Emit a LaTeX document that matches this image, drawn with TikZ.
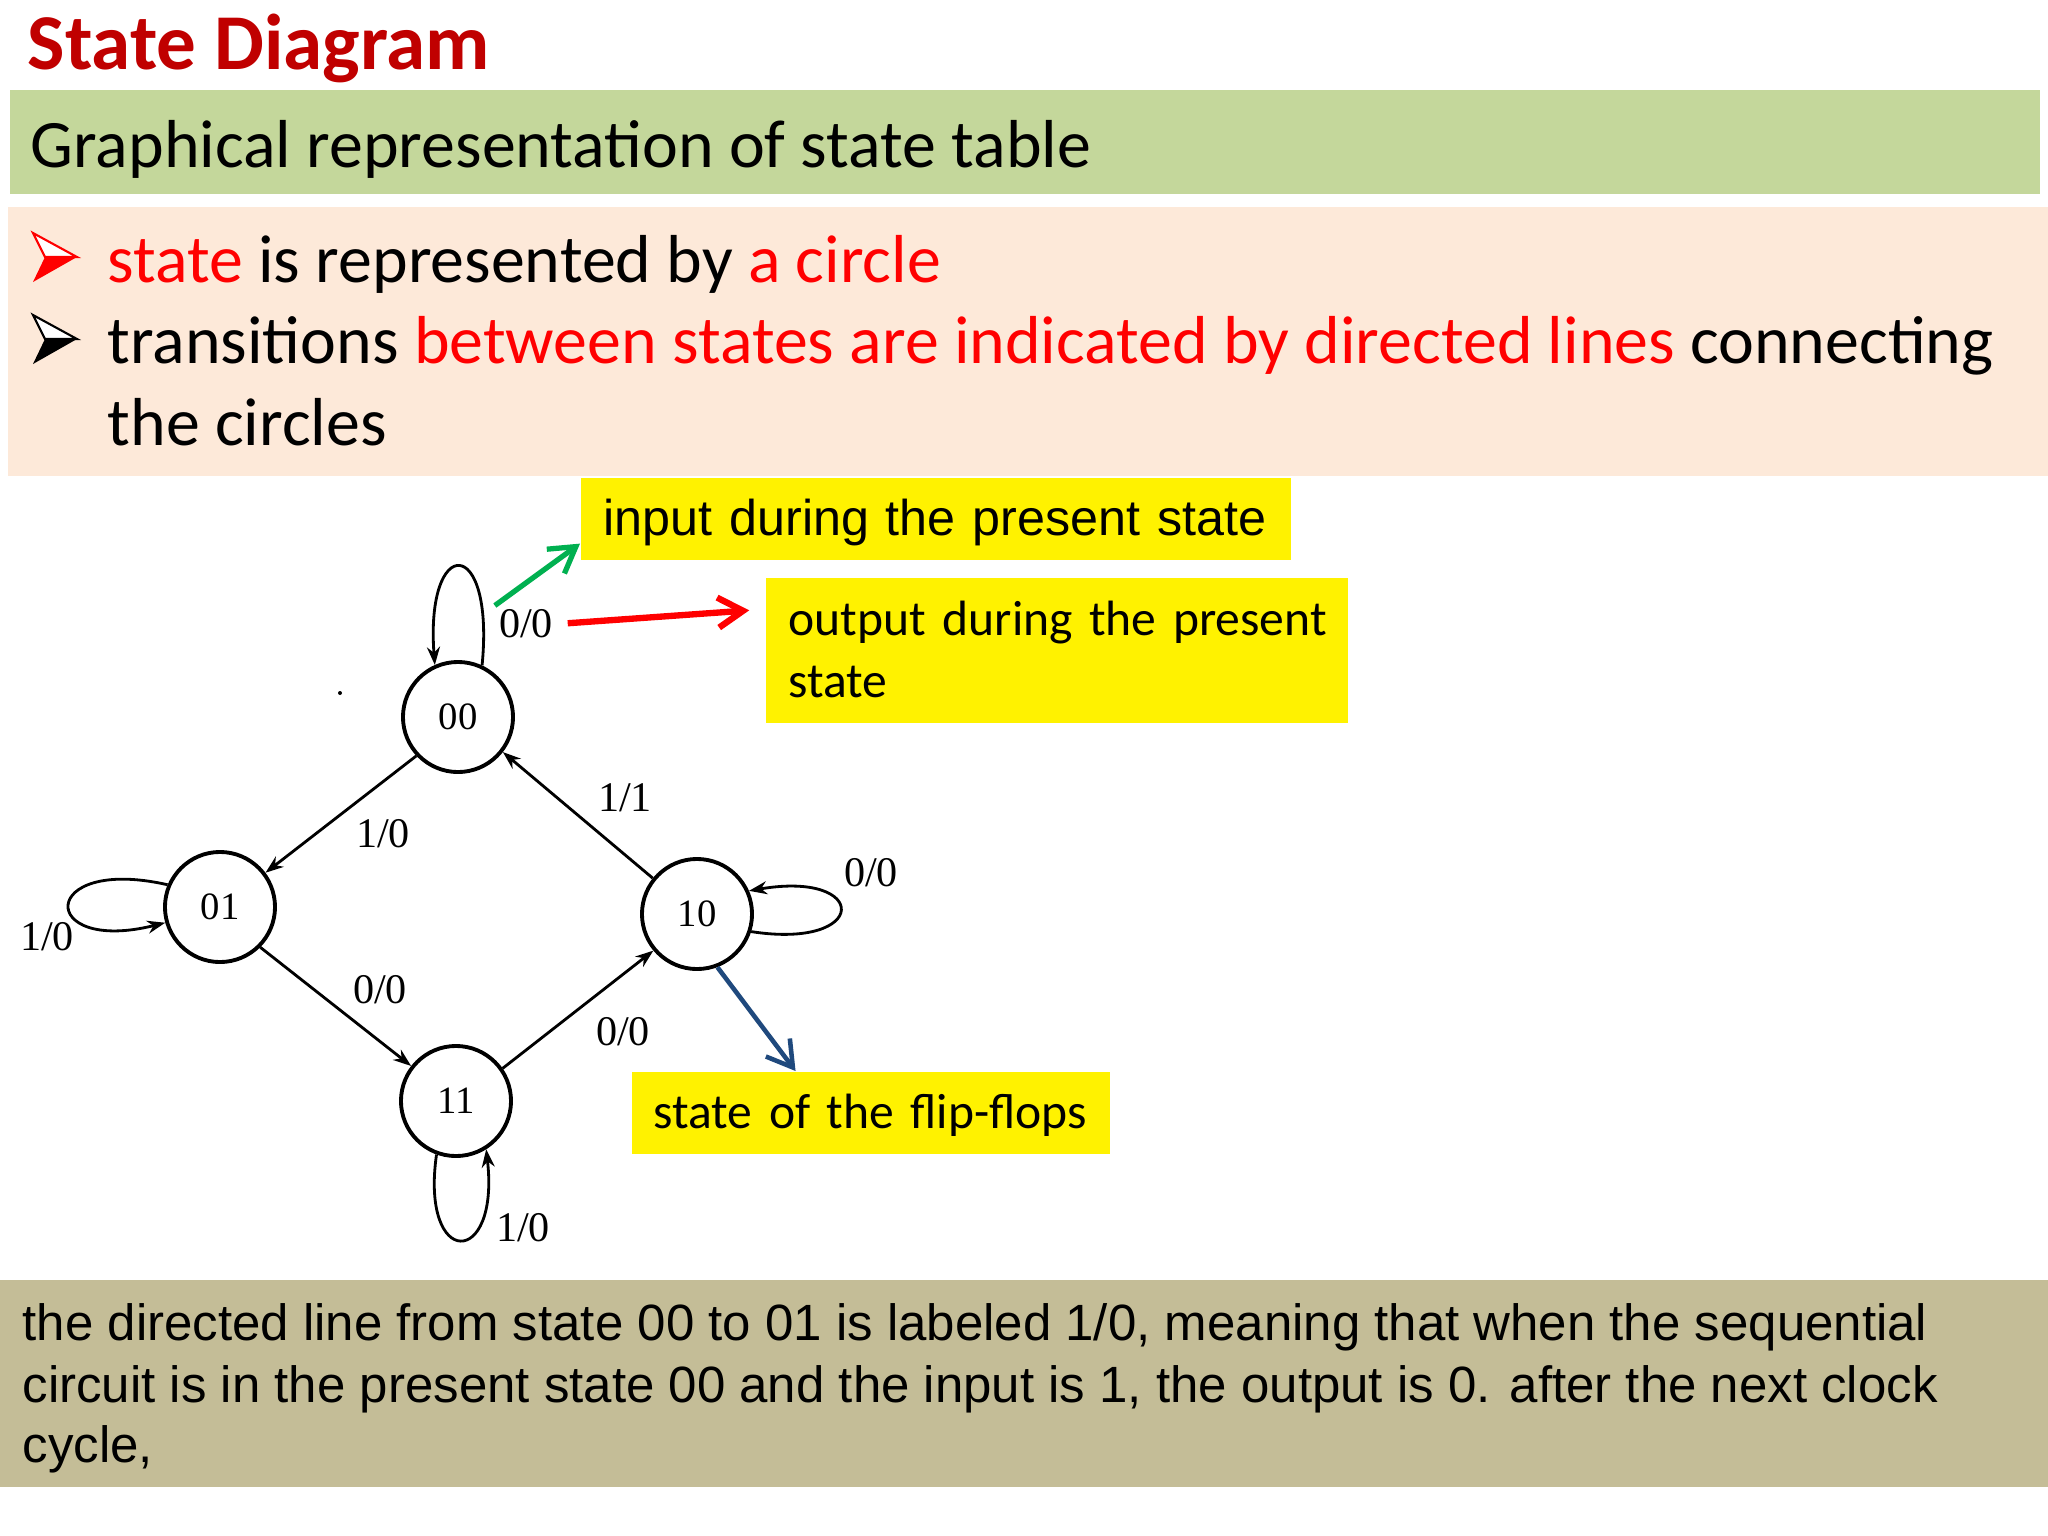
\documentclass[tikz,border=0pt]{standalone}
\usepackage{fontspec}
\setmainfont{Carlito}
\newfontfamily\arialfont{Liberation Sans}
\newfontfamily\timesfont{Liberation Serif}
\usetikzlibrary{arrows.meta}
\definecolor{titlered}{HTML}{C00000}
\definecolor{bargreen}{HTML}{C4D79B}
\definecolor{bulletpink}{HTML}{FDE9D9}
\definecolor{notetan}{HTML}{C4BD97}
\definecolor{arrowgreen}{HTML}{00B050}
\definecolor{arrowblue}{HTML}{1F497D}
\begin{document}
\begin{tikzpicture}[x=0.01cm,y=-0.01cm,
  ffstate/.style={draw,circle,line width=1.1pt,inner sep=0pt,minimum size=1.1cm,font=\timesfont\fontsize{11}{11}\selectfont},
  trans/.style={line width=0.8pt,-{Stealth[length=1.8mm,width=1.3mm]}},
  io/.style={inner sep=1pt,font=\timesfont\fontsize{12}{12}\selectfont},
  ybox/.style={fill=yellow,anchor=north west,inner ysep=0pt,align=left,font=\fontsize{14.1}{17.6}\selectfont},
  txt/.style={anchor=base west,inner sep=0pt},
  callout/.style={-{Straight Barb[length=2.5mm,width=3mm]}}]
  \useasboundingbox (0,0) rectangle (2048,1536);
  % header
  \fill[bargreen] (10,90) rectangle (2040,194);
  \fill[bulletpink] (8,207) rectangle (2048,476);
  \node[txt,at={(27,69)},text=titlered,font=\bfseries\fontsize{22.5}{27}\selectfont] (title) {State Diagram};
  \node[txt,at={(30,167)},font=\fontsize{19.3}{23}\selectfont] (sub) {Graphical representation of state table};
  %bullets
  \filldraw[fill=white,draw=red,line width=0.6pt] (33,233) -- (77,257) -- (45,257) -- cycle;
  \fill[red] (45,257) -- (77,257) -- (33,282) -- cycle;
  \filldraw[fill=white,draw=black,line width=0.6pt] (33,315) -- (77,339) -- (45,339) -- cycle;
  \fill[black] (45,339) -- (77,339) -- (33,364) -- cycle;
  \node[txt,at={(107,282)},font=\fontsize{19.3}{23}\selectfont] (b1) {\textcolor{red}{state} is represented by \textcolor{red}{a circle}};
  \node[txt,at={(107,363)},font=\fontsize{19.3}{23}\selectfont] (b2) {transitions \textcolor{red}{between states are indicated by directed lines} connecting};
  \node[txt,at={(107,445)},font=\fontsize{19.3}{23}\selectfont] (b3) {the circles};

  % states
  \node[ffstate,at={(458,717)}] (s00) {00};
  \node[ffstate,at={(220,907)}] (s01) {01};
  \node[ffstate,at={(697,914)}] (s10) {10};
  \node[ffstate,at={(456,1101)}] (s11) {11};
  \fill (340,693) circle (2);
  %edges
  \draw[trans] (s00.223) -- (s01.37);
  \draw[trans] (s10.141) -- (s00.322);
  \draw[trans] (s01.315) -- (s11.142);
  \draw[trans] (s11.35) -- (s10.220);
  \draw[trans] (s00.65) .. controls (495,534) and (425,534) .. (s00.114);
  \draw[trans] (s01.157) .. controls (37,855) and (37,955) .. (s01.196);
  \draw[trans] (s10.342) .. controls (870,950) and (870,870) .. (s10.24);
  \draw[trans] (s11.250) .. controls (420,1269) and (500,1269) .. (s11.302);
  %labels
  \node[io,at={(526,624)}] (l00) {0/0};
  \node[io,at={(383,834)}] (l0001) {1/0};
  \node[io,at={(625,798)}] (l1000) {1/1};
  \node[io,at={(871,873)}] (l10) {0/0};
  \node[io,at={(47,937)}] (l01) {1/0};
  \node[io,at={(380,990)}] (l0111) {0/0};
  \node[io,at={(623,1032)}] (l1110) {0/0};
  \node[io,at={(523,1228)}] (l11) {1/0};

  % notes
  \node[ybox,inner xsep=0.23cm,text width=6.64cm,text height=0.58cm,text depth=0.24cm,font=\arialfont\fontsize{14.3}{17}\selectfont,at={(580,477)}] (inbox) {\mbox{input during the present state}};
  \node[ybox,inner xsep=0.23cm,text width=5.36cm,text height=0.58cm,text depth=0.87cm,at={(765,577)}] (outbox) {\mbox{output during the present}\\state};
  \node[ybox,inner xsep=0.22cm,text width=4.34cm,text height=0.57cm,text depth=0.25cm,at={(631,1071)}] (ffbox) {\mbox{state of the flip-flops}};
  \draw[callout,arrowgreen,line width=1.5pt] (l00.north west) -- (inbox.184);
  \draw[callout,red,line width=1.8pt,shorten <=3pt,shorten >=4.5pt] (l00.east) -- (outbox.172);
  \draw[callout,arrowblue,line width=1.3pt] (s10.291) -- (ffbox.151);

  % bottom
  \fill[notetan] (0,1280) rectangle (2048,1487);
  \node[txt,at={(22,1340)},font=\arialfont\fontsize{14.5}{17}\selectfont] (n1) {the directed line from state 00 to 01 is labeled 1/0, meaning that when the sequential};
  \node[txt,at={(22,1402)},font=\arialfont\fontsize{14.5}{17}\selectfont] (n2) {circuit is in the present state 00 and the input is 1, the output is 0. after the next clock};
  \node[txt,at={(22,1462)},font=\arialfont\fontsize{14.5}{17}\selectfont] (n3) {cycle,};
\end{tikzpicture}
\end{document}
